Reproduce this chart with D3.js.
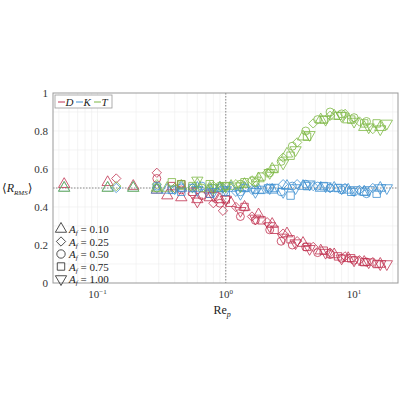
<!DOCTYPE html>
<html><head><meta charset="utf-8">
<script src="https://cdn.jsdelivr.net/npm/d3@7"></script>
<style>body{margin:0;background:#fff}text{font-family:"Liberation Serif","DejaVu Serif",serif}</style>
</head><body><div id="chart"></div>
<script>
// data, one set per forcing amplitude
let amplitudes = ["0.10", "0.25", "0.50", "0.75", "1.00"];

let re10 = [0.055,0.12,0.19,0.29,0.35,0.45,0.6,0.75,0.9,1.1,1.4,1.8,2.3,3,4,5.5,7,9,12,16];
let d10 = [0.52,0.53,0.51,0.49,0.46,0.45,0.44,0.45,0.44,0.42,0.40,0.36,0.31,0.26,0.21,0.17,0.15,0.13,0.11,0.10];
let k10 = [0.50,0.50,0.50,0.49,0.49,0.50,0.50,0.49,0.50,0.50,0.50,0.49,0.49,0.51,0.51,0.50,0.50,0.49,0.48,0.50];
let t10 = [0.50,0.50,0.50,0.50,0.50,0.51,0.52,0.50,0.50,0.51,0.52,0.55,0.60,0.68,0.77,0.86,0.88,0.86,0.82,0.82];

let re25 = [0.14,0.29,0.4,0.55,0.8,0.95,1.2,1.6,2.1,2.8,3.6,4.8,6.5,8.5,11,14];
let d25 = [0.55,0.58,0.50,0.47,0.42,0.38,0.40,0.35,0.32,0.26,0.22,0.19,0.16,0.14,0.12,0.11];
let k25 = [0.50,0.50,0.49,0.50,0.50,0.50,0.48,0.49,0.50,0.52,0.52,0.51,0.50,0.50,0.49,0.50];
let t25 = [0.51,0.52,0.50,0.50,0.51,0.50,0.52,0.54,0.58,0.66,0.74,0.84,0.88,0.89,0.85,0.81];

let re50 = [0.29,0.45,0.65,0.9,1.3,1.7,2.2,2.7,3.3,4.2,5.2,6.5,8,10,12.5];
let d50 = [0.55,0.49,0.46,0.42,0.35,0.33,0.28,0.22,0.20,0.19,0.16,0.15,0.13,0.12,0.11];
let k50 = [0.51,0.50,0.51,0.50,0.48,0.49,0.50,0.48,0.51,0.52,0.51,0.50,0.49,0.48,0.47];
let t50 = [0.50,0.52,0.50,0.51,0.52,0.53,0.58,0.64,0.72,0.80,0.86,0.90,0.89,0.87,0.85];

let re75 = [0.38,0.45,0.55,0.75,1.0,1.4,1.9,2.4,3.2,4.3,5.8,7.5,9.5,12,15];
let d75 = [0.51,0.52,0.48,0.47,0.44,0.40,0.33,0.28,0.23,0.19,0.17,0.14,0.13,0.11,0.10];
let k75 = [0.49,0.48,0.50,0.47,0.48,0.50,0.49,0.50,0.46,0.51,0.51,0.50,0.48,0.48,0.47];
let t75 = [0.53,0.52,0.51,0.52,0.51,0.53,0.56,0.60,0.67,0.77,0.86,0.88,0.86,0.84,0.84];

let re100 = [0.6,0.8,1.0,1.3,1.7,2.2,2.8,3.5,4.5,6,8,10,13,16,18];
let d100 = [0.43,0.46,0.44,0.38,0.34,0.30,0.24,0.21,0.18,0.16,0.13,0.12,0.11,0.10,0.10];
let k100 = [0.49,0.48,0.49,0.47,0.48,0.50,0.48,0.50,0.52,0.51,0.50,0.49,0.49,0.50,0.50];
let t100 = [0.54,0.50,0.51,0.51,0.54,0.58,0.63,0.70,0.78,0.86,0.88,0.85,0.82,0.81,0.84];

let yTicks = [0, 0.2, 0.4, 0.6, 0.8, 1];
let xTicks = [-1, 0, 1];

let colors = {D: "#c0314f", K: "#3d8fd1", T: "#7cb842"};
let shapes = [d3.symbolTriangle, d3.symbolDiamond2, d3.symbolCircle, d3.symbolSquare, d3.symbolTriangle];
let rotations = [0, 0, 0, 0, 180];
let groups = [
  [re10, d10, k10, t10], [re25, d25, k25, t25], [re50, d50, k50, t50],
  [re75, d75, k75, t75], [re100, d100, k100, t100]
];

let margin = {left: 53, top: 93, right: 2, bottom: 117};
let width = 400 - margin.left - margin.right;
let height = 400 - margin.top - margin.bottom;

let svg = d3.select("#chart").append("svg").attr("width", 400).attr("height", 400)
    .append("g").attr("transform", `translate(${margin.left}, ${margin.top})`);

let x = d3.scaleLog().domain([0.045, 22]).range([0, width]);
let y = d3.scaleLinear().domain([0, 1]).range([height, 0]);

// grid
let minor = [];
for (let e = -2; e <= 1; e++) for (let m = 1; m < 10; m++) {
  let v = m * Math.pow(10, e);
  if (v > 0.045 && v < 22) minor.push(v);
}
svg.append("g").selectAll("line").data(minor).enter().append("line")
    .attr("x1", d => x(d)).attr("x2", d => x(d)).attr("y1", 0).attr("y2", height)
    .attr("stroke", "#ececec").attr("stroke-width", 0.6);
svg.append("g").selectAll("line").data(d3.range(0.1, 1, 0.1)).enter().append("line")
    .attr("x1", 0).attr("x2", width).attr("y1", d => y(d)).attr("y2", d => y(d))
    .attr("stroke", "#ececec").attr("stroke-width", 0.6);

// reference lines
svg.append("line").attr("x1", 0).attr("x2", width).attr("y1", y(0.5)).attr("y2", y(0.5))
    .attr("stroke", "#888").attr("stroke-dasharray", "1.5,1.5");
svg.append("line").attr("x1", x(1)).attr("x2", x(1)).attr("y1", 0).attr("y2", height)
    .attr("stroke", "#888").attr("stroke-dasharray", "1.5,1.5");

// markers
groups.forEach(function(g, gi) {
  let sym = d3.symbol().type(shapes[gi]).size(gi == 2 ? 50 : 55);
  ["D", "K", "T"].forEach(function(s, si) {
    svg.append("g").selectAll("path").data(g[0].map((r, i) => [r, g[si + 1][i]])).enter()
        .append("path")
        .attr("d", sym)
        .attr("transform", d => `translate(${x(d[0])},${y(d[1])}) rotate(${rotations[gi]})`)
        .attr("fill", "none").attr("stroke", colors[s]).attr("stroke-width", 0.8);
  });
});

// frame and axes
svg.append("rect").attr("width", width).attr("height", height)
    .attr("fill", "none").attr("stroke", "#999").attr("stroke-width", 1);

svg.append("g").selectAll("text").data(yTicks).enter().append("text")
    .attr("x", -5).attr("y", d => y(d) + 4)
    .style("text-anchor", "end").style("font-size", 11).attr("fill", "#333")
    .text(d => d);

let xl = svg.append("g").selectAll("text").data(xTicks).enter().append("text")
    .attr("x", d => x(Math.pow(10, d))).attr("y", height + 15)
    .style("text-anchor", "middle").style("font-size", 11).attr("fill", "#333");
xl.append("tspan").text("10");
xl.append("tspan").attr("dy", -4).style("font-size", 7).text(d => d < 0 ? "\u2212" + (-d) : d);

svg.append("text").attr("x", width / 2 - 12).attr("y", height + 31)
    .style("font-size", 12).attr("fill", "#222")
    .html('Re<tspan dy="3" font-size="8" font-style="italic">p</tspan>');

svg.append("text").attr("x", -51).attr("y", y(0.5) + 4)
    .style("font-size", 12).attr("fill", "#222")
    .html('\u27E8<tspan font-style="italic">R</tspan><tspan dy="3" font-size="7" font-style="italic">RMS</tspan><tspan dy="-3">\u27E9</tspan>');

// series legend
let lg = svg.append("g").attr("transform", "translate(2, 2)");
lg.append("rect").attr("width", 57).attr("height", 13).attr("fill", "#fff").attr("stroke", "#999").attr("stroke-width", 0.8);
["D", "K", "T"].forEach(function(s, i) {
  lg.append("line").attr("x1", 3 + i * 18).attr("x2", 10 + i * 18).attr("y1", 7).attr("y2", 7)
      .attr("stroke", colors[s]).attr("stroke-width", 1);
  lg.append("text").attr("x", 10.5 + i * 18).attr("y", 11).style("font-size", 11)
      .style("font-style", "italic").attr("fill", "#222").text(s);
});

// amplitude legend
amplitudes.forEach(function(a, i) {
  let cy = y(0.4) + 22 + i * 12.5;
  svg.append("path").attr("d", d3.symbol().type(shapes[i]).size(55))
      .attr("transform", `translate(8,${cy}) rotate(${rotations[i]})`)
      .attr("fill", "none").attr("stroke", "#222").attr("stroke-width", 0.8);
  svg.append("text").attr("x", 16).attr("y", cy + 4).style("font-size", 11).attr("fill", "#222")
      .html(`<tspan font-style="italic">A</tspan><tspan dy="2" font-size="7" font-style="italic">f</tspan><tspan dy="-2"> = ${a}</tspan>`);
});
</script></body></html>
